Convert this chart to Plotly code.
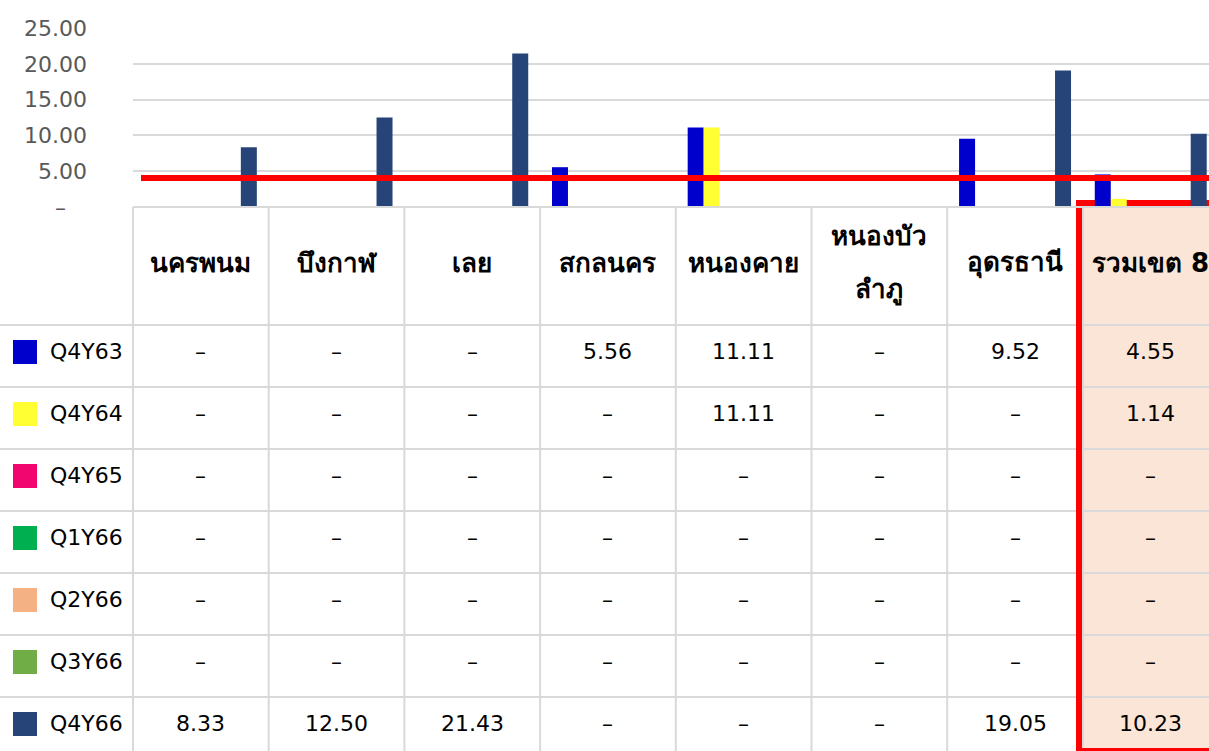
import plotly.graph_objects as go

# ---------------- data ----------------
categories = ["นครพนม", "บึงกาฬ", "เลย", "สกลนคร", "หนองคาย", "หนองบัวลำภู", "อุดรธานี", "รวมเขต 8"]
header_labels = ["นครพนม", "บึงกาฬ", "เลย", "สกลนคร", "หนองคาย", "หนองบัว<br>ลำภู", "อุดรธานี", "รวมเขต 8"]

series_names = ["Q4Y63", "Q4Y64", "Q4Y65", "Q1Y66", "Q2Y66", "Q3Y66", "Q4Y66"]
q4y63 = [None, None, None, 5.56, 11.11, None, 9.52, 4.55]
q4y64 = [None, None, None, None, 11.11, None, None, 1.14]
q4y65 = [None, None, None, None, None, None, None, None]
q1y66 = [None, None, None, None, None, None, None, None]
q2y66 = [None, None, None, None, None, None, None, None]
q3y66 = [None, None, None, None, None, None, None, None]
q4y66 = [8.33, 12.50, 21.43, None, None, None, 19.05, 10.23]
series_values = [q4y63, q4y64, q4y65, q1y66, q2y66, q3y66, q4y66]
series_colors = ["#0000CC", "#FFFF33", "#F0066E", "#00B050", "#F4B183", "#70AD47", "#264478"]

TARGET = 4.05
y_tickvals = [0, 5, 10, 15, 20, 25]
y_ticktext = ["–\u00a0\u00a0\u00a0", "5.00", "10.00", "15.00", "20.00", "25.00"]

# ---------------- layout geometry (screen pixels) ----------------
W, H = 1209, 751
L, T, B = 133, 28, 207            # plot area
PW, PH = W - L, B - T
CW = 135.7                        # category width in px
x_lo = -0.5
x_hi = x_lo + PW / CW

HEADER_TOP, HEADER_BOT, ROW_H = 207, 325, 62
XR = 1.0   # table lines run to the window edge

def px(xs):
    return (xs - L) / PW

def py(ys):
    return (B - ys) / PH

FONT = "DejaVu Sans"
GRID = "#D9D9D9"
RED = "#FF0000"

fig = go.Figure()
idx = list(range(len(categories)))
for name, vals, col in zip(series_names, series_values, series_colors):
    fig.add_trace(go.Bar(
        x=idx, y=vals, name=name, marker=dict(color=col, line=dict(width=0)),
        hoverinfo="x+y+name",
    ))

shapes = []
annotations = []

# red box top edge (inside plot area, drawn below the bars)
shapes.append(dict(type="line", layer="between", xref="paper", yref="paper",
                   x0=px(1076), x1=XR, y0=py(203), y1=py(203),
                   line=dict(color=RED, width=6)))

# peach fill of the total column
shapes.append(dict(type="rect", layer="above", xref="paper", yref="paper",
                   x0=px(1082), x1=XR, y0=py(208), y1=py(748),
                   fillcolor="#FBE5D6", line=dict(width=0)))

# table grid: vertical lines at category boundaries
for k in range(len(categories)):
    xb = k - 0.5
    xpaper = (xb - x_lo) / (x_hi - x_lo)
    shapes.append(dict(type="line", layer="above", xref="paper", yref="paper",
                       x0=xpaper, x1=xpaper, y0=py(HEADER_TOP), y1=py(H + 5),
                       line=dict(color=GRID, width=2)))
# horizontal lines
shapes.append(dict(type="line", layer="above", xref="paper", yref="paper",
                   x0=0, x1=XR, y0=py(HEADER_TOP), y1=py(HEADER_TOP),
                   line=dict(color=GRID, width=2)))
for i in range(len(series_names)):
    yl = HEADER_BOT + ROW_H * i
    shapes.append(dict(type="line", layer="above", xref="paper", yref="paper",
                       x0=px(0), x1=XR, y0=py(yl), y1=py(yl),
                       line=dict(color=GRID, width=2)))

# red box left & bottom edges
shapes.append(dict(type="line", layer="above", xref="paper", yref="paper",
                   x0=px(1079), x1=px(1079), y0=py(208), y1=py(H + 5),
                   line=dict(color=RED, width=6)))
shapes.append(dict(type="line", layer="above", xref="paper", yref="paper",
                   x0=px(1082), x1=XR, y0=py(749.5), y1=py(749.5),
                   line=dict(color=RED, width=3)))

# target line (above bars)
shapes.append(dict(type="line", layer="above", xref="paper", yref="y",
                   x0=px(141), x1=XR, y0=TARGET, y1=TARGET,
                   line=dict(color=RED, width=6)))

# header labels
HDR_FONT = dict(family=FONT, size=26, color="#000000", weight="bold")
for i, lab in enumerate(header_labels):
    parts = lab.split("<br>")
    n = len(parts)
    for j, part in enumerate(parts):
        yc = 263 + (j - (n - 1) / 2) * 54
        annotations.append(dict(x=i, xref="x", y=py(yc), yref="paper", text=part,
                                showarrow=False, xanchor="center", yanchor="middle",
                                font=HDR_FONT))

# legend column + values
CELL_FONT = dict(family=FONT, size=22, color="#000000")
for r, (name, vals, col) in enumerate(zip(series_names, series_values, series_colors)):
    yc = HEADER_BOT + ROW_H * r + 26
    shapes.append(dict(type="rect", layer="above", xref="paper", yref="paper",
                       x0=px(13), x1=px(37), y0=py(yc - 12 + 1), y1=py(yc + 12 + 1),
                       fillcolor=col, line=dict(width=0)))
    annotations.append(dict(x=px(48), xref="paper", y=py(yc), yref="paper", text=name,
                            showarrow=False, xanchor="left", yanchor="middle",
                            font=CELL_FONT))
    for i, v in enumerate(vals):
        txt = "–" if v is None else f"{v:.2f}"
        annotations.append(dict(x=i, xref="x", y=py(yc), yref="paper", text=txt,
                                showarrow=False, xanchor="center", yanchor="middle",
                                font=CELL_FONT))

fig.update_layout(
    width=W, height=H,
    margin=dict(l=L, r=0, t=T, b=H - B, autoexpand=False),
    paper_bgcolor="white", plot_bgcolor="white",
    barmode="group", bargap=0.175, bargroupgap=0,
    showlegend=False, hovermode=False,
    shapes=shapes, annotations=annotations,
    xaxis=dict(range=[x_lo, x_hi], showticklabels=False, showgrid=False,
               zeroline=False, showline=False, ticks=""),
    yaxis=dict(range=[0, 25], tickvals=y_tickvals, ticktext=y_ticktext,
               showgrid=True, gridcolor=GRID, gridwidth=2, zeroline=False,
               showline=False, ticks="", ticklabelstandoff=45,
               tickfont=dict(family=FONT, size=22, color="#595959")),
)

# remove the page's default body margin so the 1209x751 figure fills the window exactly
fig.write_html("out.html", config={"displayModeBar": False},
               post_script="document.body.style.margin='0';document.body.style.overflow='hidden';")
